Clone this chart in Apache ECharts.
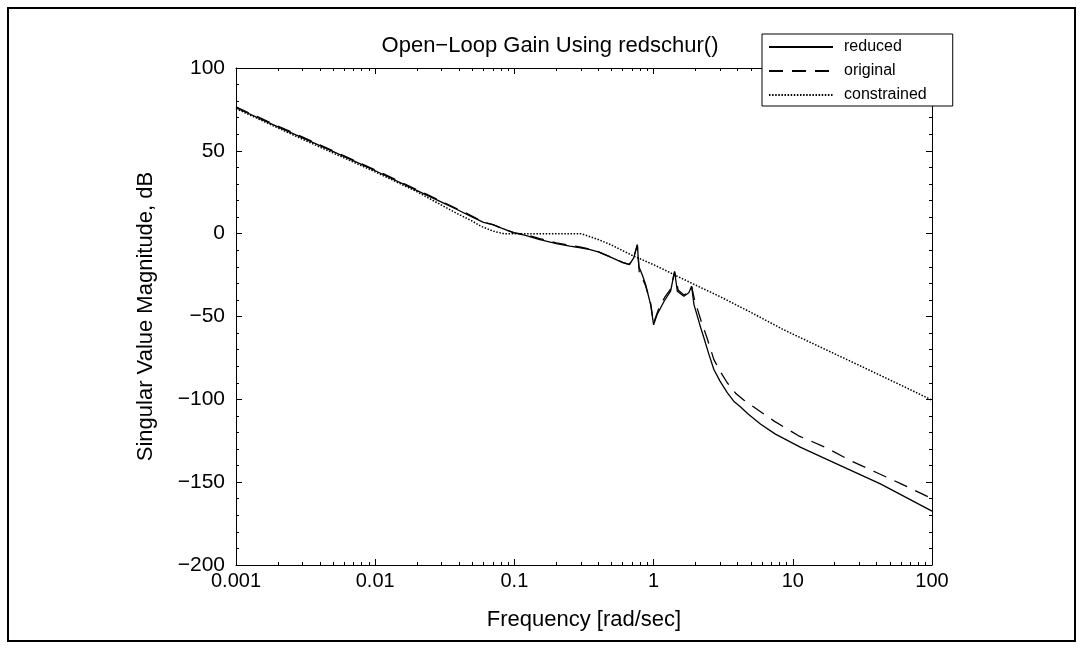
<!DOCTYPE html>
<html>
<head>
<meta charset="utf-8">
<script src="https://cdn.jsdelivr.net/npm/echarts@6/dist/echarts.min.js"></script>
<style>
  html, body { margin: 0; padding: 0; background: #fff; }
  #chart { width: 1085px; height: 649px; }
</style>
</head>
<body>
<div id="chart"></div>
<script>
// Open-loop singular value magnitude (dB) versus frequency (rad/sec)
const reducedFreq = [0.001, 0.002, 0.005, 0.01, 0.02, 0.03, 0.04, 0.05, 0.06, 0.07, 0.08, 0.09, 0.1, 0.12, 0.15, 0.2, 0.25, 0.3, 0.35, 0.4, 0.5, 0.6, 0.67, 0.72, 0.764, 0.784, 0.83, 0.876, 0.952, 1.0, 1.06, 1.19, 1.325, 1.415, 1.48, 1.65, 1.79, 1.875, 1.95, 2.18, 2.3, 2.5, 2.71, 3.0, 3.38, 3.8, 4.2, 4.8, 5.88, 7.5, 11.4, 22, 42.6, 100];
const reducedMag  = [76, 64.5, 49.5, 38, 26, 19, 14, 10, 6.8, 5.5, 3.5, 1.8, 0.5, -1, -3.5, -6, -7.5, -8.5, -9.6, -11, -14.5, -17.5, -18.7, -14.6, -6.6, -20, -25, -30.7, -42.8, -55, -48.8, -40.8, -34.7, -22.7, -34.7, -37.8, -35.7, -31.7, -42.8, -56.8, -63, -73, -82, -89, -96, -101.5, -104.5, -109, -115, -121, -129, -140, -151, -167.5];

const originalFreq = [0.001, 0.002, 0.005, 0.01, 0.02, 0.03, 0.04, 0.05, 0.06, 0.07, 0.08, 0.09, 0.1, 0.12, 0.15, 0.2, 0.25, 0.3, 0.35, 0.4, 0.5, 0.6, 0.67, 0.72, 0.764, 0.79, 0.84, 0.876, 0.952, 1.0, 1.08, 1.2, 1.325, 1.415, 1.5, 1.65, 1.79, 1.875, 1.97, 2.2, 2.4, 2.71, 3.0, 3.38, 3.9, 4.44, 7.3, 11, 17.2, 26, 39.5, 60, 100];
const originalMag  = [76.5, 65, 50, 38.5, 26.5, 19.5, 14.5, 10.5, 7, 5.5, 3.5, 1.8, 0.5, -0.5, -2.8, -5.5, -7, -8.2, -9.4, -10.8, -14.3, -17.3, -18.5, -14.4, -6.8, -24, -28, -31.5, -42, -54, -46, -38.5, -33.5, -23, -34, -37, -35.5, -32, -40, -53, -62, -76, -83, -90, -96.5, -100.4, -113, -122, -129, -137, -144, -151, -160];

const constrainedFreq = [0.001, 0.003, 0.01, 0.02, 0.037, 0.05, 0.0574, 0.071, 0.084, 0.1, 0.2, 0.3, 0.4, 0.49, 0.7, 1.06, 1.4, 2, 3, 5, 8.6, 15.8, 30, 60, 100];
const constrainedMag  = [75.5, 57, 37.3, 25.3, 13, 7.5, 4.5, 1.4, 0, 0, 0, 0, -3.5, -6.6, -13, -19.7, -24.7, -31, -38, -47.5, -58, -68.5, -79.5, -91.5, -100.5];

const seriesNames = ['reduced', 'original', 'constrained'];
const xTickLabels = ['0.001', '0.01', '0.1', '1', '10', '100'];
const yMin = -200, yMax = 100, yStep = 50;

const pair = (fs, ms) => fs.map((f, i) => [f, ms[i]]);

// log10 positions of the 2..9 minor ticks inside each decade
const minorLogTicks = [];
for (let d = -3; d < 2; d++) {
  for (let k = 2; k <= 9; k++) minorLogTicks.push(d + Math.log10(k));
}

const FONT = 'Liberation Sans, Arial, Helvetica, sans-serif';
const INK = '#000';

const chart = echarts.init(document.getElementById('chart'), null, { renderer: 'canvas' });

const tickFmt = v => {
  const s = Number(Number(v).toPrecision(1)).toString();
  return xTickLabels.includes(s) ? s : '';
};
const yFmt = v => (v < 0 ? '\u2212' + Math.abs(v) : String(v));

const logAxisBase = {
  type: 'log', logBase: 10, min: 0.001, max: 100,
  axisLine: { show: true, onZero: false, lineStyle: { color: INK, width: 1 } },
  axisTick: { show: true, inside: true, length: 6, lineStyle: { color: INK } },
  splitLine: { show: false },
  minorTick: { show: false }
};
const minorXBase = {
  type: 'value', min: -3, max: 2,
  axisLine: { show: false, onZero: false },
  axisLabel: { show: false },
  axisTick: { show: true, inside: true, length: 3, customValues: minorLogTicks, lineStyle: { color: INK } },
  splitLine: { show: false }
};
const yBase = {
  type: 'value', min: yMin, max: yMax, interval: yStep,
  axisLine: { show: true, onZero: false, lineStyle: { color: INK, width: 1 } },
  axisTick: { show: true, inside: true, length: 6, lineStyle: { color: INK } },
  minorTick: { show: true, splitNumber: 5, length: 3, lineStyle: { color: INK } },
  splitLine: { show: false }
};

chart.setOption({
  animation: false,
  backgroundColor: '#fff',
  textStyle: { fontFamily: FONT, color: INK },
  title: {
    text: 'Open\u2212Loop Gain Using redschur()',
    left: 545, top: 30, textAlign: 'center',
    textStyle: { fontFamily: FONT, fontSize: 22, fontWeight: 'normal', color: INK }
  },
  legend: {
    data: seriesNames,
    orient: 'vertical',
    left: 762, top: 34,
    backgroundColor: '#fff',
    borderColor: INK, borderWidth: 1,
    padding: [5, 26, 3, 6],
    itemWidth: 64, itemHeight: 14, itemGap: 8,
    selectedMode: false,
    itemStyle: { color: 'rgba(0,0,0,0)', borderWidth: 0, opacity: 0 },
    textStyle: { fontFamily: FONT, fontSize: 16, color: INK, padding: [0, 0, 0, 6] }
  },
  grid: { left: 236, right: 153, top: 68, bottom: 84, containLabel: false },
  xAxis: [
    Object.assign({}, logAxisBase, {
      position: 'bottom',
      name: 'Frequency [rad/sec]', nameLocation: 'middle', nameGap: 44,
      nameTextStyle: { fontFamily: FONT, fontSize: 22, color: INK },
      axisLabel: { show: true, margin: 6, fontFamily: FONT, fontSize: 20, color: INK, formatter: tickFmt }
    }),
    Object.assign({}, logAxisBase, { position: 'top', axisLabel: { show: false } }),
    Object.assign({}, minorXBase, { position: 'bottom' }),
    Object.assign({}, minorXBase, { position: 'top' })
  ],
  yAxis: [
    Object.assign({}, yBase, {
      position: 'left',
      name: 'Singular Value Magnitude, dB', nameLocation: 'middle', nameGap: 79,
      nameTextStyle: { fontFamily: FONT, fontSize: 22, color: INK },
      axisLabel: { show: true, margin: 11, fontFamily: FONT, fontSize: 21, color: INK, formatter: yFmt }
    }),
    Object.assign({}, yBase, { position: 'right', axisLabel: { show: false } })
  ],
  series: [
    {
      name: seriesNames[0], type: 'line', xAxisIndex: 0, yAxisIndex: 0,
      data: pair(reducedFreq, reducedMag),
      symbol: 'none', smooth: false, color: INK,
      lineStyle: { color: INK, width: 1.3, type: 'solid' }
    },
    {
      name: seriesNames[1], type: 'line', xAxisIndex: 0, yAxisIndex: 0,
      data: pair(originalFreq, originalMag),
      symbol: 'none', smooth: false, color: INK,
      lineStyle: { color: INK, width: 1.3, type: [14, 9] }
    },
    {
      name: seriesNames[2], type: 'line', xAxisIndex: 0, yAxisIndex: 0,
      data: pair(constrainedFreq, constrainedMag),
      symbol: 'none', smooth: false, color: INK,
      lineStyle: { color: INK, width: 1.5, type: [1.5, 1.6] }
    }
  ],
  graphic: [{
    type: 'rect', silent: true, z: 100,
    shape: { x: 8, y: 8, width: 1067, height: 633 },
    style: { fill: 'none', stroke: INK, lineWidth: 2 }
  }]
});
</script>
</body>
</html>
